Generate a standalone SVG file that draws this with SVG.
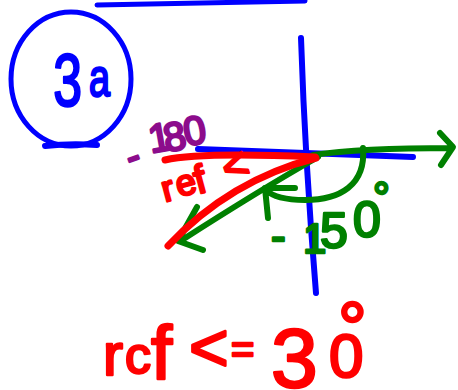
<svg xmlns="http://www.w3.org/2000/svg" width="458" height="390" viewBox="0 0 458 390">
<style>
.ln{fill:none;stroke-linecap:round;stroke-linejoin:round}
.b{stroke:#0000ff}
.r{stroke:#ff0000}
.g{stroke:#008000}
.t{font-family:"Liberation Sans",Arial,sans-serif;stroke-width:2.5;stroke-linejoin:round;stroke-linecap:round}
</style>
<rect width="458" height="390" fill="#ffffff"/>
<g id="label-3a">
<ellipse class="ln b" cx="71" cy="79" rx="60" ry="67" stroke-width="5"/>
<path class="ln b" d="M45,146 Q70,143 97,145" stroke-width="6"/>
<text class="t" fill="#0000ff" stroke="#0000ff" transform="scale(0.7,1)"><tspan x="76" y="106" font-size="74">3</tspan><tspan x="127" y="96" font-size="54">a</tspan></text>
</g>
<g id="top-line">
<path class="ln b" d="M97,5 L305,1" stroke-width="5"/>
</g>
<g id="axes">
<path class="ln b" d="M301,38 Q305,160 316,293" stroke-width="6"/>
<path class="ln b" d="M198,149 L413,157" stroke-width="6"/>
</g>
<g id="connectors">
<path class="ln g" d="M313,155 Q360,148 452,148 M440,133 L453,147 L441,165" stroke-width="6"/>
<path class="ln g" d="M363,148 C366,185 340,200 305,200 C285,200 272,196 266,190 M295,188 L265,188 L268,218" stroke-width="6"/>
<path class="ln g" d="M318,157 Q260,190 182,240 M197,207 L178,241 L203,250" stroke-width="6"/>
<path class="ln r" d="M165,160 Q200,152 315,157" stroke-width="7"/>
<path class="ln r" d="M316,158 Q230,180 168,246" stroke-width="7"/>
</g>
<g id="label-minus180">
<text class="t" fill="#8c0c8c" stroke="#8c0c8c" font-size="40"><tspan x="131" y="171" rotate="-20">-</tspan><tspan x="151" y="153" rotate="-10">1</tspan><tspan x="166" y="152" rotate="-10">8</tspan><tspan x="186" y="146" rotate="-10">0</tspan></text>
</g>
<g id="label-ref">
<text class="t" fill="#ff0000" stroke="#ff0000"><tspan x="165" y="202" font-size="36" rotate="-15">r</tspan><tspan x="179" y="197" font-size="36" rotate="-15">e</tspan><tspan x="198" y="194" font-size="40" rotate="-15">f</tspan><tspan x="228" y="184" font-size="44" rotate="-20">&lt;</tspan></text>
</g>
<g id="label-minus150">
<text class="t" fill="#008000" stroke="#008000"><tspan x="271" y="251" font-size="44">-</tspan><tspan x="303" y="253" font-size="42">1</tspan><tspan x="320" y="248" font-size="50">5</tspan><tspan x="353" y="237" font-size="50">0</tspan><tspan x="373" y="212" font-size="42">°</tspan></text>
</g>
<g id="label-result">
<text class="t" fill="#ff0000" stroke="#ff0000" stroke-width="3"><tspan x="103" y="375" font-size="60">r</tspan><tspan x="125" y="373" font-size="52">c</tspan><tspan x="151" y="379" font-size="76">f</tspan><tspan x="189" y="371" font-size="68">&lt;</tspan><tspan x="231" y="363" font-size="40">=</tspan><tspan x="271" y="387" font-size="84">3</tspan><tspan x="329" y="377" font-size="62">0</tspan><tspan x="338" y="352" font-size="72">°</tspan></text>
</g>
</svg>
